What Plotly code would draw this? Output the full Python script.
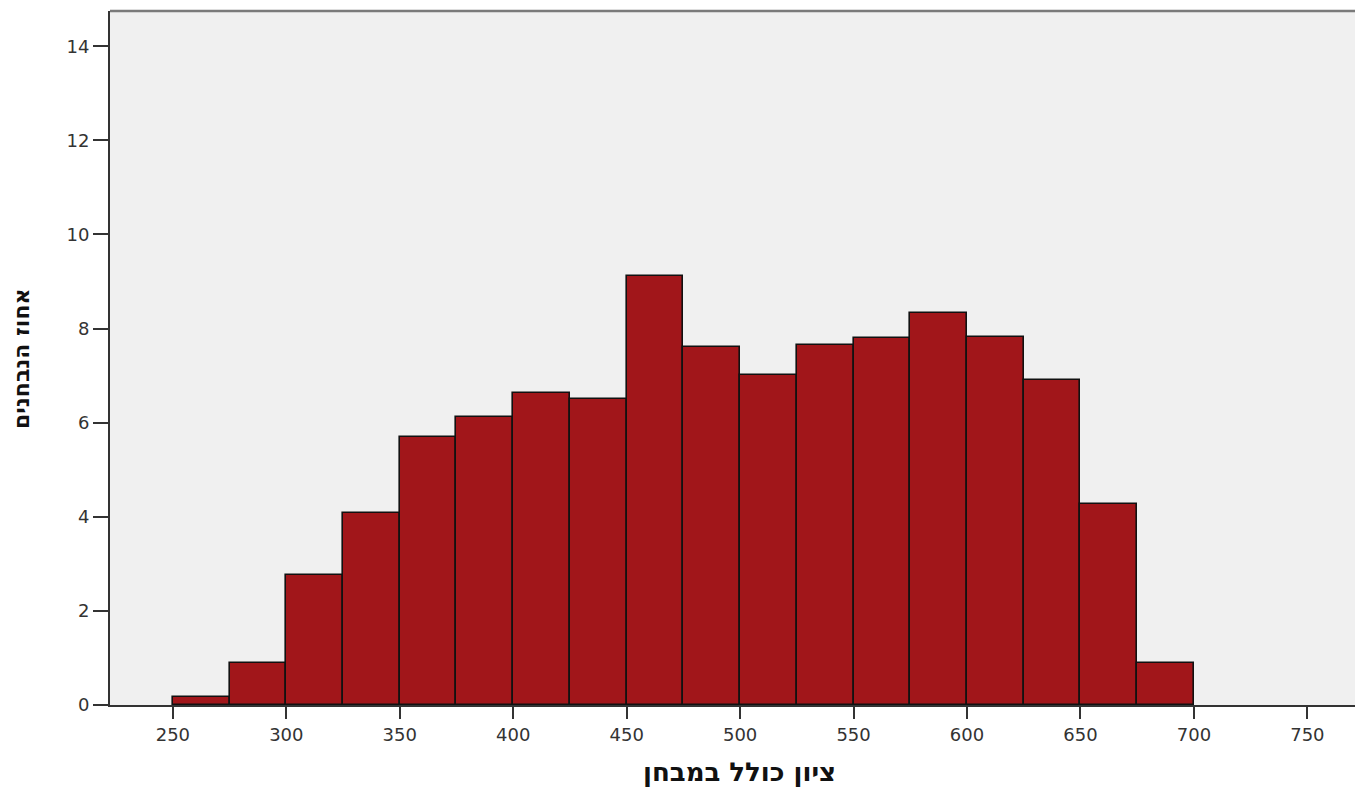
import plotly.graph_objects as go

# Histogram bins (left edges, width 25) and percentage of examinees
bin_left = [250, 275, 300, 325, 350, 375, 400, 425, 450, 475, 500, 525, 550, 575, 600, 625, 650, 675]
percent = [0.16, 0.89, 2.77, 4.08, 5.70, 6.13, 6.64, 6.51, 9.11, 7.61, 7.02, 7.65, 7.81, 8.33, 7.82, 6.90, 4.28, 0.89]
bin_width = 25

x_ticks = [250, 300, 350, 400, 450, 500, 550, 600, 650, 700, 750]
y_ticks = [0, 2, 4, 6, 8, 10, 12, 14]

x_title = "ציון כולל במבחן"
y_title = "אחוז הנבחנים"

fig = go.Figure()
fig.add_trace(go.Bar(
    x=bin_left,
    y=percent,
    width=[bin_width] * len(bin_left),
    offset=0,
    marker=dict(color="#A1161A", line=dict(color="#111111", width=1.6)),
    hoverinfo="x+y",
))

tick_font = dict(family="DejaVu Sans", size=18, color="#333333")

fig.update_layout(
    width=1355,
    height=790,
    margin=dict(l=110, r=0, t=11, b=85),
    paper_bgcolor="white",
    plot_bgcolor="#F0F0F0",
    showlegend=False,
    bargap=0,
    xaxis=dict(
        range=[222.3, 771],
        tickmode="array",
        tickvals=x_ticks,
        ticks="outside",
        ticklen=12,
        tickwidth=2,
        tickcolor="#333333",
        showline=True,
        linecolor="#333333",
        linewidth=2,
        showgrid=False,
        zeroline=False,
        tickfont=tick_font,
    ),
    yaxis=dict(
        range=[0, 14.75],
        tickmode="array",
        tickvals=y_ticks,
        ticks="outside",
        ticklen=15,
        tickwidth=2,
        tickcolor="#333333",
        showline=True,
        linecolor="#333333",
        linewidth=2,
        showgrid=False,
        zeroline=False,
        tickfont=tick_font,
    ),
    shapes=[dict(type="line", xref="paper", yref="paper", x0=0, x1=1, y0=1, y1=1,
                 line=dict(color="#7A7A7A", width=2.5))],
    annotations=[
        dict(text=x_title, xref="paper", yref="paper", x=0.506, y=-0.097,
             xanchor="center", yanchor="middle", showarrow=False,
             font=dict(family="DejaVu Sans", size=26, color="#111111", weight="bold")),
        dict(text=y_title, xref="paper", yref="paper", x=-0.0715, y=0.5,
             xanchor="center", yanchor="middle", showarrow=False, textangle=-90,
             font=dict(family="DejaVu Sans", size=22, color="#111111", weight="bold")),
    ],
)

fig.write_html(
    "out.html",
    config={"displayModeBar": False},
    post_script="document.body.style.margin='0px';document.body.style.padding='0px';",
)
